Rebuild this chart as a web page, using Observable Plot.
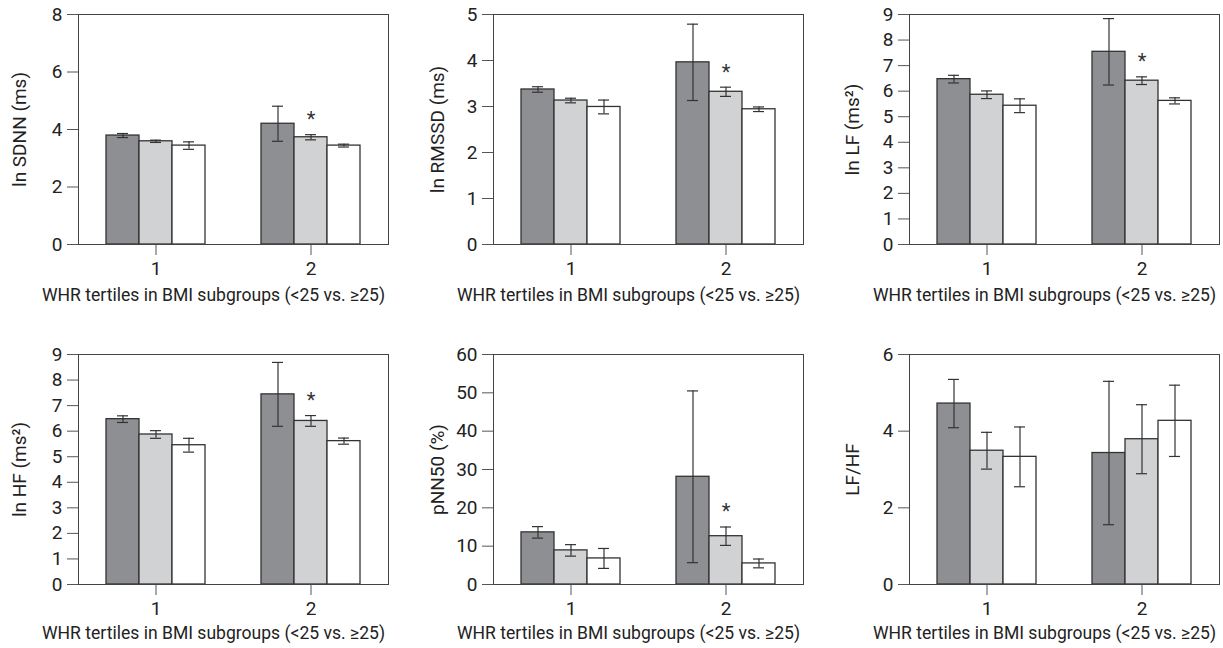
<!DOCTYPE html>
<html>
<head>
<meta charset="utf-8">
<script src="https://cdn.jsdelivr.net/npm/d3@7"></script>
<script src="https://cdn.jsdelivr.net/npm/@observablehq/plot@0.6"></script>
<style>
  html, body { margin: 0; padding: 0; background: #fff; width: 1223px; height: 648px; overflow: hidden; }
  #root { position: relative; width: 1223px; height: 648px; overflow: hidden; }
  .panel { position: absolute; width: 400px; height: 305px; }
  .panel svg { max-width: none !important; }
  .xtitle { position: absolute; font-family: Roboto, "Liberation Sans", sans-serif; font-size: 18px; line-height: 22px; color: #222; white-space: nowrap; transform-origin: 0 50%; }
</style>
</head>
<body>
<div id="root"></div>
<script>
// Categories
const groups = ["1", "2"];
const tertiles = ["T1", "T2", "T3"];
const xTitle = "WHR tertiles in BMI subgroups (<25 vs. ≥25)";

// ln SDNN (ms)
const sdnnMean = [3.79, 3.59, 3.44, 4.20, 3.73, 3.44];
const sdnnErr  = [0.07, 0.04, 0.13, 0.61, 0.09, 0.05];
const sdnnStar = [false, false, false, false, true, false];

// ln RMSSD (ms)
const rmssdMean = [3.37, 3.13, 2.99, 3.96, 3.32, 2.94];
const rmssdErr  = [0.06, 0.05, 0.15, 0.83, 0.10, 0.05];
const rmssdStar = [false, false, false, false, true, false];

// ln LF (ms²)
const lfMean = [6.47, 5.86, 5.43, 7.54, 6.41, 5.62];
const lfErr  = [0.15, 0.15, 0.27, 1.30, 0.15, 0.12];
const lfStar = [false, false, false, false, true, false];

// ln HF (ms²)
const hfMean = [6.47, 5.87, 5.45, 7.44, 6.40, 5.61];
const hfErr  = [0.13, 0.15, 0.27, 1.25, 0.21, 0.12];
const hfStar = [false, false, false, false, true, false];

// pNN50 (%)
const pnnMean = [13.6, 8.9, 6.8, 28.1, 12.6, 5.5];
const pnnErr  = [1.5, 1.5, 2.6, 22.4, 2.4, 1.15];
const pnnStar = [false, false, false, false, true, false];

// LF/HF
const ratioMean = [4.72, 3.49, 3.33, 3.43, 3.79, 4.27];
const ratioErr  = [0.63, 0.48, 0.78, 1.87, 0.90, 0.93];
const ratioStar = [false, false, false, false, false, false];

const fills = ["#8e8f93", "#d1d2d4", "#ffffff"];
const font = 'Roboto, "Liberation Sans", sans-serif';

const panels = [
  {left: 0,   top: 0,   mean: sdnnMean,  err: sdnnErr,  star: sdnnStar,  domain: [0, 8],  ticks: [0, 2, 4, 6, 8], label: "ln SDNN (ms)", lo: 66},
  {left: 415, top: 0,   mean: rmssdMean, err: rmssdErr, star: rmssdStar, domain: [0, 5],  ticks: [0, 1, 2, 3, 4, 5], label: "ln RMSSD (ms)", lo: 63},
  {left: 831, top: 0,   mean: lfMean,    err: lfErr,    star: lfStar,    domain: [0, 9],  ticks: [0, 1, 2, 3, 4, 5, 6, 7, 8, 9], label: "ln LF (ms²)", lo: 64},
  {left: 0,   top: 340, mean: hfMean,    err: hfErr,    star: hfStar,    domain: [0, 9],  ticks: [0, 1, 2, 3, 4, 5, 6, 7, 8, 9], label: "ln HF (ms²)", lo: 66},
  {left: 415, top: 340, mean: pnnMean,   err: pnnErr,   star: pnnStar,   domain: [0, 60], ticks: [0, 10, 20, 30, 40, 50, 60], label: "pNN50 (%)", lo: 63},
  {left: 831, top: 340, mean: ratioMean, err: ratioErr, star: ratioStar, domain: [0, 6],  ticks: [0, 2, 4, 6], label: "LF/HF", lo: 64}
];

const root = document.getElementById("root");

for (const p of panels) {
  const data = p.mean.map((m, i) => ({
    group: groups[Math.floor(i / 3)],
    tertile: tertiles[i % 3],
    mean: m,
    lo: m - p.err[i],
    hi: m + p.err[i],
    star: p.star[i]
  }));

  const chart = Plot.plot({
    width: 400,
    height: 305,
    marginLeft: 77,
    marginRight: 12,
    marginTop: 14,
    marginBottom: 61,
    style: {fontFamily: font, fontSize: "19px", color: "#222", background: "transparent", overflow: "visible", maxWidth: "none"},
    fx: {domain: groups, padding: 0, label: null},
    x: {domain: tertiles, paddingInner: 0, paddingOuter: 0.79, axis: null},
    y: {domain: p.domain},
    color: {domain: tertiles, range: fills},
    marks: [
      Plot.barY(data, {fx: "group", x: "tertile", y: "mean", fill: "tertile", stroke: "#333", strokeWidth: 1.3}),
      Plot.ruleX(data, {fx: "group", x: "tertile", y1: "lo", y2: "hi", stroke: "#333", strokeWidth: 1.2}),
      Plot.tickY(data, {fx: "group", x: "tertile", y: "lo", stroke: "#333", strokeWidth: 1.2, insetLeft: 11, insetRight: 11}),
      Plot.tickY(data, {fx: "group", x: "tertile", y: "hi", stroke: "#333", strokeWidth: 1.2, insetLeft: 11, insetRight: 11}),
      Plot.text(data.filter(d => d.star), {fx: "group", x: "tertile", y: "hi", text: () => "*", dy: -15, fontSize: 20, fill: "#333"}),
      Plot.axisY({ticks: p.ticks, tickFormat: d => String(d), tickSize: 11, tickPadding: 5, stroke: "#555", fontSize: 19, label: p.label, labelAnchor: "center", labelArrow: "none", labelOffset: p.lo}),
      Plot.axisFx({anchor: "bottom", tickSize: 11, tickPadding: 6, stroke: "#555", fontSize: 19, label: null}),
      Plot.frame({facet: "super", stroke: "#444"})
    ]
  });

  const div = document.createElement("div");
  div.className = "panel";
  div.style.left = p.left + "px";
  div.style.top = p.top + "px";
  div.appendChild(chart);
  root.appendChild(div);

  const t = document.createElement("div");
  t.className = "xtitle";
  t.style.top = (p.top + (p.top === 0 ? 284 : 282)) + "px";
  t.textContent = xTitle;
  root.appendChild(t);
  // fit the caption to the reference width (condensed look), centred under the panel
  const w = t.getBoundingClientRect().width;
  const target = 343;
  const s = target / w;
  t.style.left = (p.left + 213 - target / 2) + "px";
  t.style.transform = `scaleX(${s})`;
}
</script>
</body>
</html>
